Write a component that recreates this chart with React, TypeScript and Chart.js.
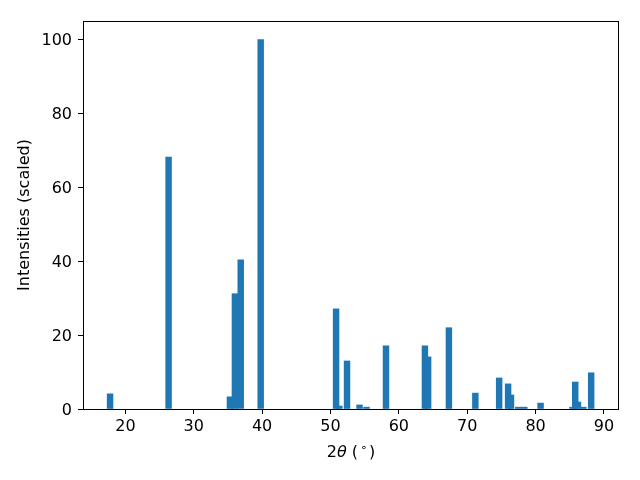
import React, { useEffect, useRef } from 'react';
import { Chart, registerables } from 'chart.js';

Chart.register(...registerables);

// 2θ peak positions (degrees)
const peakPositions = [
  17.76, 26.32, 35.29, 36.02, 36.87, 39.79, 50.82, 51.3, 52.42, 54.25, 55.27, 58.12,
  63.81, 64.28, 67.32, 71.19, 74.67, 75.98, 76.4, 77.47, 78.35, 80.73, 85.39, 85.8,
  86.2, 86.98, 88.13,
];
// scaled intensities
const intensities = [
  4.1, 68.2, 3.3, 31.2, 40.4, 100, 27.1, 0.8, 13.0, 1.1, 0.5, 17.1,
  17.1, 14.1, 22.0, 4.3, 8.4, 6.8, 3.8, 0.5, 0.5, 1.6, 0.5, 7.3,
  1.9, 0.5, 9.8,
];
const xTicks = [20, 30, 40, 50, 60, 70, 80, 90];
const yTicks = [0, 20, 40, 60, 80, 100];
const xRange = [13.8, 92.2];
const yRange = [0, 105];
const yAxisLabel = 'Intensities (scaled)';
const xAxisLabelParts = ['2', 'θ', ' (', '∘', ')'];

const FONT = '"DejaVu Sans"';
const FS = 16;
const BAR_COLOR = '#1f77b4';

export default function App() {
  const ref = useRef<HTMLCanvasElement>(null);

  useEffect(() => {
    if (!ref.current) return;

    const framePlugin = {
      id: 'frame',
      afterDraw(chart: any) {
        const { ctx, chartArea: a } = chart;
        ctx.save();
        ctx.strokeStyle = '#000';
        ctx.lineWidth = 1;
        ctx.strokeRect(a.left + 0.5, a.top + 0.5, a.right - a.left - 1, a.bottom - a.top);
        // x-axis label with mathtext-like styling
        const normal = `${FS}px ${FONT}`;
        const italic = `italic ${FS}px ${FONT}`;
        const small = `${FS * 0.7}px ${FONT}`;
        const styles = [
          { f: normal, dy: 0, pl: 0, pr: 0 },
          { f: italic, dy: 0, pl: 0, pr: 0 },
          { f: normal, dy: 0, pl: 0, pr: 1 },
          { f: small, dy: -6, pl: 1, pr: 2 },
          { f: normal, dy: 0, pl: 0, pr: 0 },
        ];
        let total = 0;
        const widths = xAxisLabelParts.map((t, i) => {
          ctx.font = styles[i].f;
          const w = ctx.measureText(t).width + styles[i].pl + styles[i].pr;
          total += w;
          return w;
        });
        let x = (a.left + a.right) / 2 - total / 2;
        const baseY = 457;
        ctx.fillStyle = '#000';
        ctx.textBaseline = 'alphabetic';
        ctx.textAlign = 'left';
        xAxisLabelParts.forEach((t, i) => {
          ctx.font = styles[i].f;
          ctx.fillText(t, x + styles[i].pl, baseY + styles[i].dy);
          x += widths[i];
        });
        ctx.restore();
      },
    };

    const chart = new Chart(ref.current, {
      type: 'bar',
      data: {
        datasets: [
          {
            data: peakPositions.map((p, i) => ({ x: p, y: intensities[i] })),
            backgroundColor: BAR_COLOR,
            borderWidth: 0,
            barThickness: 5.8,
          },
        ],
      },
      options: {
        responsive: false,
        animation: false,
        devicePixelRatio: 1,
        layout: { padding: { top: 21, right: 21, left: 0, bottom: 0 } },
        plugins: { legend: { display: false }, tooltip: { enabled: false } },
        scales: {
          x: {
            type: 'linear',
            min: xRange[0],
            max: xRange[1],
            offset: false,
            afterBuildTicks: (s: any) => {
              s.ticks = xTicks.map((v) => ({ value: v }));
            },
            afterFit: (s: any) => {
              s.height = 71;
            },
            grid: { offset: false, drawOnChartArea: false, drawTicks: true, tickLength: 5, color: '#000', lineWidth: 1 },
            border: { display: false },
            ticks: {
              color: '#000',
              font: { family: 'DejaVu Sans', size: FS },
              padding: 3,
              maxRotation: 0,
              autoSkip: false,
            },
            title: { display: false },
          },
          y: {
            type: 'linear',
            min: yRange[0],
            max: yRange[1],
            afterBuildTicks: (s: any) => {
              s.ticks = yTicks.map((v) => ({ value: v }));
            },
            afterFit: (s: any) => {
              s.width = 83;
            },
            grid: { offset: false, drawOnChartArea: false, drawTicks: true, tickLength: 5, color: '#000', lineWidth: 1 },
            border: { display: false },
            ticks: {
              color: '#000',
              font: { family: 'DejaVu Sans', size: FS },
              padding: 6,
              labelOffset: 1.5,
              autoSkip: false,
            },
            title: {
              display: true,
              text: yAxisLabel,
              color: '#000',
              font: { family: 'DejaVu Sans', size: FS },
              padding: { top: 15.4, bottom: 0 },
            },
          },
        },
      },
      plugins: [framePlugin],
    });

    return () => chart.destroy();
  }, []);

  return (
    <div style={{ position: 'fixed', left: 0, top: 0, width: 640, height: 480, background: '#fff' }}>
      <canvas ref={ref} width={640} height={480} />
    </div>
  );
}
